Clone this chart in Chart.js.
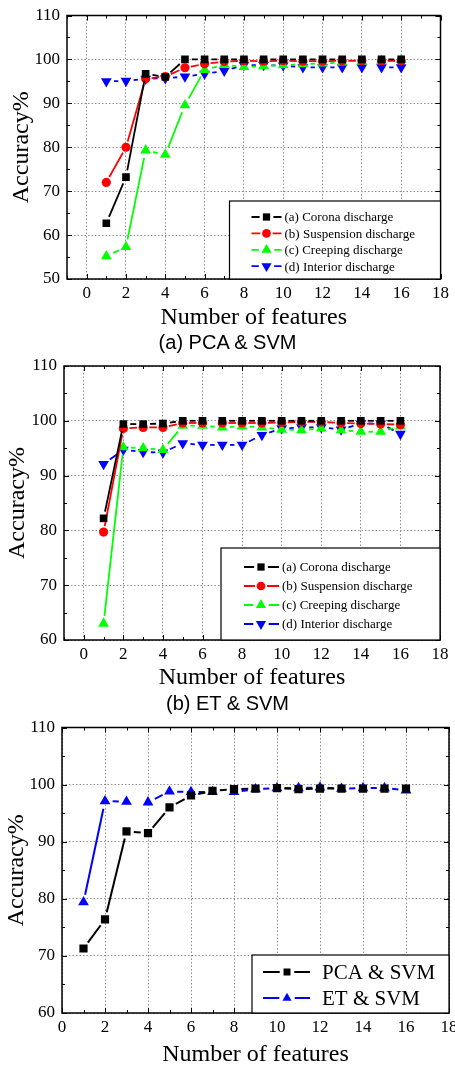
<!DOCTYPE html>
<html><head><meta charset="utf-8">
<script src="https://cdn.jsdelivr.net/npm/chart.js@4.4.0/dist/chart.umd.min.js"></script>
<style>
html,body{margin:0;padding:0;overflow:hidden;background:#fff;width:455px;height:1067px;position:relative}
canvas{position:absolute;left:0}
.sub{position:absolute;left:0;width:455px;text-align:center;font-family:"Liberation Sans",Arial,sans-serif;font-size:20px;line-height:20px;color:#000}
</style></head><body>
<canvas id="c1" width="455" height="332" style="top:0px"></canvas>
<div class="sub" style="top:332px">(a) PCA &amp; SVM</div>
<canvas id="c2" width="455" height="340" style="top:350px"></canvas>
<div class="sub" style="top:693px">(b) ET &amp; SVM</div>
<canvas id="c3" width="470" height="355" style="top:712px"></canvas>
<script>
// ---------- data ----------
const features = [1,2,3,4,5,6,7,8,9,10,11,12,13,14,15,16];
const xTicks = [0,2,4,6,8,10,12,14,16,18];
const yTicksA = [50,60,70,80,90,100,110];
const yTicksB = [60,70,80,90,100,110];

const labelsDischarge = ["(a) Corona discharge","(b) Suspension discharge","(c) Creeping discharge","(d) Interior discharge"];
const labelsCompare = ["PCA & SVM","ET & SVM"];

const pcaCorona     = [62.7,73.2,96.7,96.0,100,100,100,100,100,100,100,100,100,100,100,100];
const pcaSuspension = [72.0,80.0,95.6,96.1,98.1,99.0,99.5,99.7,99.6,99.7,99.6,99.6,99.7,99.7,99.7,99.7];
const pcaCreeping   = [55.2,57.3,79.3,78.3,89.6,97.6,98.8,98.3,98.5,98.7,98.9,99.1,99.3,99.5,99.7,99.9];
const pcaInterior   = [95.0,95.1,95.6,95.7,96.1,96.7,97.4,98.7,98.7,98.6,98.2,98.2,98.2,98.2,98.2,98.2];

const etCorona      = [82.2,99.4,99.4,99.5,100,100,100,100,100,100,100,100,100,100,100,100];
const etSuspension  = [79.7,98.6,98.8,98.8,99.6,99.6,99.6,99.6,99.6,99.7,99.8,99.8,99.6,99.5,99.4,99.3];
const etCreeping    = [63.0,95.2,95.0,94.7,99.1,99.1,98.8,99.0,98.8,98.4,98.3,98.6,98.3,98.0,98.0,99.0];
const etInterior    = [92.1,94.7,94.3,94.2,95.9,95.6,95.6,95.6,97.4,98.6,98.8,98.8,98.4,99.5,99.5,97.6];

const cmpPCA        = [71.3,76.4,91.8,91.5,96.0,98.1,98.9,99.2,99.3,99.4,99.2,99.3,99.3,99.3,99.3,99.3];
const cmpET         = [79.4,97.1,97.0,96.9,98.8,98.7,98.7,98.7,99.2,99.4,99.4,99.5,99.3,99.4,99.4,99.0];

// ---------- helpers ----------
const SERIF = "'Liberation Serif','Times New Roman',serif";

function gapSeg(gap){
  return { borderDash: c => {
    const L = Math.hypot(c.p1.x - c.p0.x, c.p1.y - c.p0.y);
    if (L <= 2*gap) return [0, L + 10];
    return [0, gap, L - 2*gap, gap + 1000];
  }};
}

function drawMarker(ctx, style, rot, r, x, y, color){
  ctx.save();
  ctx.fillStyle = color;
  ctx.beginPath();
  if (style === 'rect') {
    const s = r*Math.SQRT2;
    ctx.rect(x - s/2, y - s/2, s, s);
  } else if (style === 'circle') {
    ctx.arc(x, y, r, 0, Math.PI*2);
  } else {
    let a = (rot||0) * Math.PI/180;
    ctx.moveTo(x + Math.sin(a)*r, y - Math.cos(a)*r);
    a += 2*Math.PI/3;
    ctx.lineTo(x + Math.sin(a)*r, y - Math.cos(a)*r);
    a += 2*Math.PI/3;
    ctx.lineTo(x + Math.sin(a)*r, y - Math.cos(a)*r);
    ctx.closePath();
  }
  ctx.fill();
  ctx.restore();
}

const framePlugin = {
  id: 'frameTicks',
  afterDatasetsDraw(chart){
    const {ctx, chartArea: a, scales: {x, y}} = chart;
    ctx.save();
    ctx.strokeStyle = '#000';
    ctx.lineWidth = 1;
    ctx.beginPath();
    for (let v = Math.ceil(x.min); v <= x.max; v++) {
      const px = Math.round(x.getPixelForValue(v)) + 0.5;
      const len = (v % 2 === 0) ? 5 : 3;
      ctx.moveTo(px, a.bottom); ctx.lineTo(px, a.bottom - len);
      ctx.moveTo(px, a.top); ctx.lineTo(px, a.top + len);
    }
    for (let v = Math.ceil(y.min/5)*5; v <= y.max; v += 5) {
      const py = Math.round(y.getPixelForValue(v)) + 0.5;
      const len = (v % 10 === 0) ? 5 : 3;
      ctx.moveTo(a.left, py); ctx.lineTo(a.left + len, py);
      ctx.moveTo(a.right, py); ctx.lineTo(a.right - len, py);
    }
    ctx.stroke();
    ctx.lineWidth = 1.5;
    ctx.strokeRect(a.left, a.top, a.right - a.left, a.bottom - a.top);
    ctx.restore();
  }
};

function legendPlugin(cfg, series){
  return {
    id: 'boxLegend',
    afterDatasetsDraw(chart){
      const {ctx, chartArea: a} = chart;
      const L = cfg.legend;
      const bx = a.right - L.w, by = a.bottom - L.h;
      ctx.save();
      ctx.fillStyle = '#fff';
      ctx.fillRect(bx, by, L.w, L.h);
      ctx.strokeStyle = '#000';
      ctx.lineWidth = 1.2;
      ctx.strokeRect(bx, by, L.w, L.h);
      ctx.font = L.font + 'px ' + SERIF;
      ctx.textBaseline = 'middle';
      ctx.textAlign = 'left';
      series.forEach((s, i) => {
        const yy = by + L.row0 + i*L.rowStep;
        const mx = bx + L.mark;
        const g = s.r + 1.5;
        ctx.strokeStyle = s.color;
        ctx.lineWidth = cfg.lw;
        ctx.beginPath();
        ctx.moveTo(bx + L.lineL, yy); ctx.lineTo(mx - g, yy);
        ctx.moveTo(mx + g, yy); ctx.lineTo(bx + L.lineR, yy);
        ctx.stroke();
        drawMarker(ctx, s.style, s.rot, s.r*L.mScale, mx, yy, s.color);
        ctx.fillStyle = '#000';
        ctx.fillText(s.label, bx + L.text, yy + 1);
      });
      ctx.restore();
    }
  };
}

function build(id, cfg){
  const series = cfg.series;
  return new Chart(document.getElementById(id), {
    type: 'line',
    data: { datasets: series.map(s => ({
      label: s.label,
      data: features.map((f, i) => ({x: f, y: s.data[i]})),
      borderColor: s.color, backgroundColor: s.color,
      borderWidth: cfg.lw,
      pointStyle: s.style, pointRotation: s.rot || 0,
      pointRadius: s.r, pointHoverRadius: s.r,
      pointBackgroundColor: s.color, pointBorderColor: s.color, pointBorderWidth: 0,
      tension: 0, fill: false,
      segment: gapSeg(s.r + 1.5)
    }))},
    options: {
      responsive: false, animation: false, events: [],
      layout: { padding: { top: cfg.padTop, right: cfg.padRight, left: 0, bottom: 0 } },
      plugins: { legend: { display: false }, tooltip: { enabled: false } },
      scales: {
        x: {
          type: 'linear', min: cfg.xMin, max: cfg.xMax,
          afterBuildTicks: s => { s.ticks = xTicks.map(v => ({value: v})); },
          afterFit: s => { s.height = cfg.xH; },
          grid: { color: '#8f8f8f', lineWidth: 1, drawTicks: false },
          border: { display: false, dash: [1.5, 2] },
          ticks: { color: '#000', padding: cfg.xTickPad, maxRotation: 0, autoSkip: false,
                   font: { family: SERIF, size: 17, lineHeight: 1 } },
          title: { display: true, text: 'Number of features', color: '#000',
                   font: { family: SERIF, size: 24, lineHeight: 1 },
                   padding: { top: 0, bottom: cfg.xTitlePad } }
        },
        y: {
          type: 'linear', min: cfg.yTicks[0], max: cfg.yTicks[cfg.yTicks.length - 1],
          afterBuildTicks: s => { s.ticks = cfg.yTicks.map(v => ({value: v})); },
          afterFit: s => { s.width = cfg.yW; },
          grid: { color: '#8f8f8f', lineWidth: 1, drawTicks: false },
          border: { display: false, dash: [1.5, 2] },
          ticks: { color: '#000', padding: 7,
                   font: { family: SERIF, size: 17, lineHeight: 1 } },
          title: { display: true, text: 'Accuracy%', color: '#000',
                   font: { family: SERIF, size: 24, lineHeight: 1 },
                   padding: { top: cfg.yTitlePad, bottom: 0 } }
        }
      }
    },
    plugins: [framePlugin, legendPlugin(cfg, series)]
  });
}

const RED = '#ff0000', GREEN = '#00ff00', BLUE = '#0000ff', BLACK = '#000000';

function fourSeries(a, b, c, d){
  return [
    { label: labelsDischarge[0], data: a, color: BLACK, style: 'rect', r: 5.4 },
    { label: labelsDischarge[1], data: b, color: RED, style: 'circle', r: 4.6 },
    { label: labelsDischarge[2], data: c, color: GREEN, style: 'triangle', r: 6.2 },
    { label: labelsDischarge[3], data: d, color: BLUE, style: 'triangle', rot: 180, r: 6.2 }
  ];
}

build('c1', {
  series: fourSeries(pcaCorona, pcaSuspension, pcaCreeping, pcaInterior),
  lw: 1.8, padTop: 9, padRight: 13, xMin: -1, xMax: 18, yTicks: yTicksA,
  xH: 53, yW: 67, xTickPad: 6, xTitlePad: 2, yTitlePad: 10,
  legend: { w: 211, h: 78, row0: 16, rowStep: 16.4, lineL: 22, lineR: 52, mark: 37, text: 55, font: 13, mScale: 0.95 }
});

build('c2', {
  series: fourSeries(etCorona, etSuspension, etCreeping, etInterior),
  lw: 1.8, padTop: 16, padRight: 11, xMin: -1, xMax: 18, yTicks: yTicksB,
  xH: 50, yW: 64, xTickPad: 6.5, xTitlePad: 0, yTitlePad: 6,
  legend: { w: 219, h: 92, row0: 19, rowStep: 19, lineL: 23, lineR: 58, mark: 40, text: 61, font: 13, mScale: 0.95 }
});

build('c3', {
  series: [
    { label: labelsCompare[0], data: cmpPCA, color: BLACK, style: 'rect', r: 5.8 },
    { label: labelsCompare[1], data: cmpET, color: BLUE, style: 'triangle', r: 6.2 }
  ],
  lw: 2, padTop: 14, padRight: 21, xMin: 0, xMax: 18, yTicks: yTicksB,
  xH: 54, yW: 62, xTickPad: 6.5, xTitlePad: 0, yTitlePad: 5,
  legend: { w: 197, h: 58, row0: 17, rowStep: 26, lineL: 11, lineR: 58, mark: 35, text: 70, font: 21, mScale: 0.85 }
});
</script>
</body></html>
